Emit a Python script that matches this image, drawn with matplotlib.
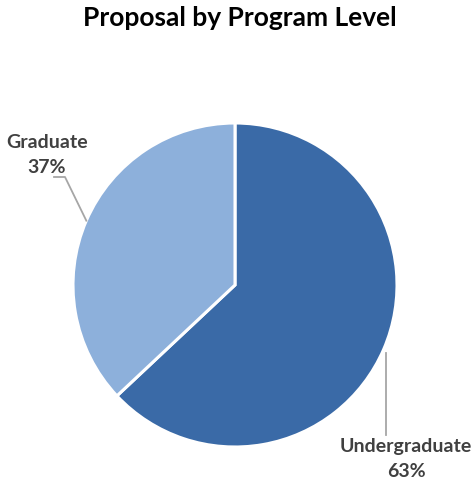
import numpy as np
import matplotlib.pyplot as plt

# ---- DATA ----
LEVELS = ["Undergraduate", "Graduate"]
SHARES = [63, 37]
COLORS = ["#3A6AA7", "#8DB0DB"]

TITLE = "Proposal by Program Level"
TEXT_COLOR = "#404040"
LINE_COLOR = "#A6A6A6"

W, H = 475, 480
CENTER = (235, H - 285)
RADIUS = 162

plt.rcParams["font.family"] = ["Lato", "DejaVu Sans"]


def main():
    fig = plt.figure(figsize=(W / 100, H / 100), dpi=100)
    ax = fig.add_axes([0, 0, 1, 1])

    wedges, _ = ax.pie(
        SHARES,
        colors=COLORS,
        startangle=90,
        counterclock=False,
        center=CENTER,
        radius=RADIUS,
        wedgeprops=dict(edgecolor="white", linewidth=2.2),
    )
    ax.set_xlim(0, W)
    ax.set_ylim(0, H)
    ax.set_aspect("equal")
    ax.axis("off")

    # label placement: text anchor + leader elbow (pixel space)
    label_pos = {
        "Undergraduate": ((406, H - 459), None),
        "Graduate": ((47, H - 155), (65, H - 177)),
    }

    for w, name, val in zip(wedges, LEVELS, SHARES):
        mid = np.deg2rad((w.theta1 + w.theta2) / 2)
        ex = CENTER[0] + RADIUS * np.cos(mid)
        ey = CENTER[1] + RADIUS * np.sin(mid)
        (tx, ty), elbow = label_pos[name]
        if elbow is None:
            # straight drop below the slice
            ax.plot([ex + 2, ex + 2], [ey - 4, ty + 24], color=LINE_COLOR, lw=1.3)
        else:
            ax.plot([ex, elbow[0], elbow[0] - 11], [ey, elbow[1], elbow[1]],
                    color=LINE_COLOR, lw=1.3)
        ax.text(tx, ty, f"{name}\n{val}%", ha="center", va="center",
                fontsize=14, fontweight="bold", color=TEXT_COLOR,
                linespacing=1.55)

    fig.text(240 / W, 1 - 18 / H, TITLE, ha="center", va="center",
             fontsize=19, fontweight="bold", color="black")

    fig.savefig("out.png", dpi=100)
    plt.close(fig)


if __name__ == "__main__":
    main()
